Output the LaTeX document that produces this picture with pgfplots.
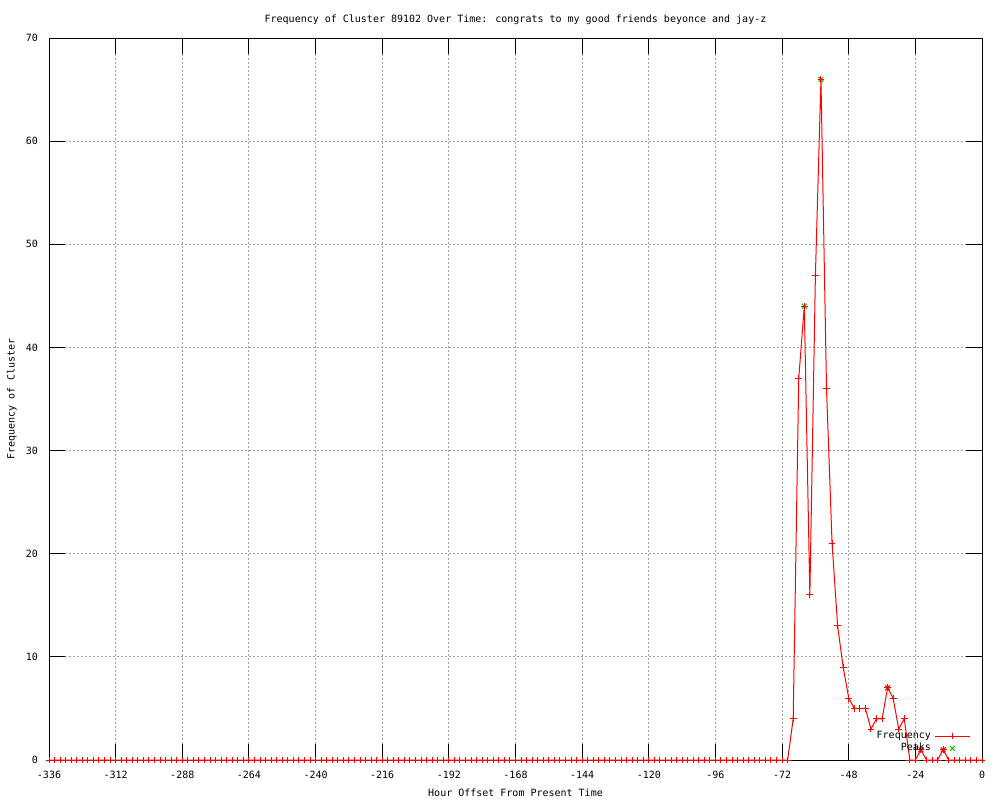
\documentclass[border=0pt]{standalone}
\usepackage{fontspec}
\setmainfont{DejaVu Sans Mono}
\usepackage{pgfplots}
\pgfplotsset{compat=1.18}
\definecolor{gpgreen}{RGB}{0,192,0}
\newcommand{\gpfont}{\fontsize{5.0pt}{6.0pt}\selectfont}
\begin{document}
\begin{tikzpicture}[x=1pt,y=1pt,font=\gpfont]
\path[use as bounding box] (0,0) rectangle (500,400);
\begin{axis}[
  at={(24.5pt,20pt)}, anchor=south west,
  scale only axis, width=466.5pt, height=361pt,
  xmin=-336, xmax=0, ymin=0, ymax=70,
  xtick={-336,-312,...,0}, ytick={0,10,...,70},
  xtick pos=both, ytick pos=both,
  xticklabel pos=lower, yticklabel pos=left,
  tick align=inside,
  major tick length=8pt,
  tick style={black, line width=0.5pt},
  axis line style={black, line width=0.5pt},
  grid=major,
  major grid style={gray!75, line width=0.5pt, dash pattern=on 1pt off 1pt},
  /pgf/number format/assume math mode=true,
  tick label style={font=\gpfont},
  xticklabel style={yshift=-2pt},
  yticklabel style={xshift=-2pt},
  title={Frequency of Cluster 89102 Over Time: congrats to my good friends beyonce and jay-z},
  title style={at={(axis description cs:0.5,1.0277)}, anchor=center, yshift=-7pt, font=\gpfont},
  xlabel={Hour Offset From Present Time},
  xlabel style={at={(axis description cs:0.5,-0.0457)}, anchor=center, font=\gpfont},
  ylabel={Frequency of Cluster},
  ylabel style={at={(axis description cs:-0.0397,0.5)}, anchor=center, rotate=0, font=\gpfont},
  legend style={at={(axis description cs:0.994,-0.003)}, anchor=south east, draw=none, fill=none,
    font=\gpfont, row sep=-3pt},
  legend cell align=right,
  legend plot pos=right,
  reverse legend,
]
\addplot[only marks, gpgreen, mark=x, mark size=1.7pt, mark options={line width=0.5pt}]
  coordinates {(-64,44) (-58,66)};
\addlegendentry{Peaks}
\addplot[red, line width=0.5pt, mark=+, mark size=1.7pt, mark options={line width=0.5pt}]
  coordinates {
  (-336,0) (-334,0) (-332,0) (-330,0) (-328,0) (-326,0) (-324,0) (-322,0) (-320,0) (-318,0)
  (-316,0) (-314,0) (-312,0) (-310,0) (-308,0) (-306,0) (-304,0) (-302,0) (-300,0) (-298,0)
  (-296,0) (-294,0) (-292,0) (-290,0) (-288,0) (-286,0) (-284,0) (-282,0) (-280,0) (-278,0)
  (-276,0) (-274,0) (-272,0) (-270,0) (-268,0) (-266,0) (-264,0) (-262,0) (-260,0) (-258,0)
  (-256,0) (-254,0) (-252,0) (-250,0) (-248,0) (-246,0) (-244,0) (-242,0) (-240,0) (-238,0)
  (-236,0) (-234,0) (-232,0) (-230,0) (-228,0) (-226,0) (-224,0) (-222,0) (-220,0) (-218,0)
  (-216,0) (-214,0) (-212,0) (-210,0) (-208,0) (-206,0) (-204,0) (-202,0) (-200,0) (-198,0)
  (-196,0) (-194,0) (-192,0) (-190,0) (-188,0) (-186,0) (-184,0) (-182,0) (-180,0) (-178,0)
  (-176,0) (-174,0) (-172,0) (-170,0) (-168,0) (-166,0) (-164,0) (-162,0) (-160,0) (-158,0)
  (-156,0) (-154,0) (-152,0) (-150,0) (-148,0) (-146,0) (-144,0) (-142,0) (-140,0) (-138,0)
  (-136,0) (-134,0) (-132,0) (-130,0) (-128,0) (-126,0) (-124,0) (-122,0) (-120,0) (-118,0)
  (-116,0) (-114,0) (-112,0) (-110,0) (-108,0) (-106,0) (-104,0) (-102,0) (-100,0) (-98,0)
  (-96,0) (-94,0) (-92,0) (-90,0) (-88,0) (-86,0) (-84,0) (-82,0) (-80,0) (-78,0)
  (-76,0) (-74,0) (-72,0) (-70,0)
  (-68,4) (-66,37) (-64,44) (-62,16) (-60,47) (-58,66) (-56,36) (-54,21) (-52,13) (-50,9)
  (-48,6) (-46,5) (-44,5) (-42,5) (-40,3) (-38,4) (-36,4) (-34,7) (-32,6) (-30,3)
  (-28,4) (-26,0) (-24,0) (-22,1) (-20,0) (-18,0) (-16,0) (-14,1) (-12,0) (-10,0)
  (-8,0) (-6,0) (-4,0) (-2,0) (0,0)
  };
\addlegendentry{Frequency}
\addplot[only marks, red, mark=x, mark size=1.7pt, mark options={line width=0.5pt}, forget plot]
  coordinates {(-34,7) (-22,1) (-14,1)};
\end{axis}
\end{tikzpicture}
\end{document}
